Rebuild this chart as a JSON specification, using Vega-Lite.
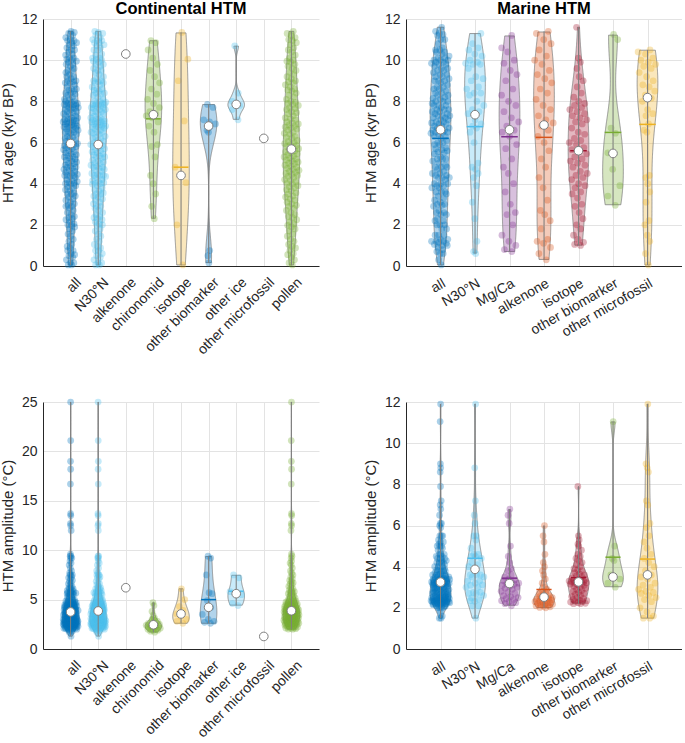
{
"$schema": "https://vega.github.io/schema/vega-lite/v6.json",
"padding": {"left": 0, "top": 0, "right": 0, "bottom": 0},
"config": {
  "font": "Liberation Sans",
  "view": {"stroke": null},
  "axis": {"labelFontSize": 14, "titleFontSize": 15, "labelColor": "#262626", "titleColor": "#262626", "titleFontWeight": "normal", "domainColor": "#262626", "domainWidth": 1, "gridColor": "#e3e3e3", "ticks": false},
  "title": {"fontSize": 16.5, "fontWeight": "bold", "color": "#000000", "offset": -5, "frame": "group"}
},
"datasets": {
"rec": [
{"t":"C","c":"alkenone","n":1,"a":10.3,"m":6.2},
{"t":"C","c":"other microfossil","n":1,"a":6.2,"m":1.3},
{"t":"C","c":"chironomid","n":1,"a":10.95,"m":4.7},
{"t":"C","c":"chironomid","n":1,"a":10.85,"m":4.4},
{"t":"C","c":"chironomid","n":1,"a":10.5,"m":3.8},
{"t":"C","c":"chironomid","n":1,"a":10.1,"m":3.4},
{"t":"C","c":"chironomid","n":1,"a":9.8,"m":3.1},
{"t":"C","c":"chironomid","n":1,"a":9.5,"m":3.0},
{"t":"C","c":"chironomid","n":1,"a":9.2,"m":2.9},
{"t":"C","c":"chironomid","n":1,"a":8.9,"m":2.8},
{"t":"C","c":"chironomid","n":1,"a":8.6,"m":2.7},
{"t":"C","c":"chironomid","n":1,"a":8.35,"m":2.6},
{"t":"C","c":"chironomid","n":1,"a":8.1,"m":2.6},
{"t":"C","c":"chironomid","n":1,"a":7.9,"m":2.5},
{"t":"C","c":"chironomid","n":1,"a":7.7,"m":2.5},
{"t":"C","c":"chironomid","n":1,"a":7.5,"m":2.45},
{"t":"C","c":"chironomid","n":1,"a":7.4,"m":2.4},
{"t":"C","c":"chironomid","n":1,"a":7.3,"m":2.4},
{"t":"C","c":"chironomid","n":1,"a":7.2,"m":2.3},
{"t":"C","c":"chironomid","n":1,"a":7.0,"m":2.3},
{"t":"C","c":"chironomid","n":1,"a":6.8,"m":2.2},
{"t":"C","c":"chironomid","n":1,"a":6.5,"m":2.2},
{"t":"C","c":"chironomid","n":1,"a":5.9,"m":2.1},
{"t":"C","c":"chironomid","n":1,"a":5.8,"m":2.1},
{"t":"C","c":"chironomid","n":1,"a":5.3,"m":2.0},
{"t":"C","c":"chironomid","n":1,"a":4.4,"m":2.0},
{"t":"C","c":"chironomid","n":1,"a":4.0,"m":1.9},
{"t":"C","c":"chironomid","n":1,"a":3.5,"m":1.9},
{"t":"C","c":"chironomid","n":1,"a":2.9,"m":1.8},
{"t":"C","c":"chironomid","n":1,"a":2.3,"m":1.7},
{"t":"C","c":"isotope","n":1,"a":11.35,"m":6.1},
{"t":"C","c":"isotope","n":1,"a":10.05,"m":5.0},
{"t":"C","c":"isotope","n":1,"a":9.0,"m":4.3},
{"t":"C","c":"isotope","n":1,"a":7.05,"m":3.9},
{"t":"C","c":"isotope","n":1,"a":4.8,"m":3.55},
{"t":"C","c":"isotope","n":1,"a":4.4,"m":3.3},
{"t":"C","c":"isotope","n":1,"a":4.05,"m":3.0},
{"t":"C","c":"isotope","n":1,"a":2.0,"m":2.8},
{"t":"C","c":"isotope","n":1,"a":0.05,"m":2.6},
{"t":"C","c":"other biomarker","n":1,"a":7.85,"m":9.4},
{"t":"C","c":"other biomarker","n":1,"a":7.7,"m":9.2},
{"t":"C","c":"other biomarker","n":1,"a":7.1,"m":7.5},
{"t":"C","c":"other biomarker","n":1,"a":7.0,"m":5.7},
{"t":"C","c":"other biomarker","n":1,"a":6.9,"m":5.6},
{"t":"C","c":"other biomarker","n":1,"a":6.8,"m":4.9},
{"t":"C","c":"other biomarker","n":1,"a":6.75,"m":4.2},
{"t":"C","c":"other biomarker","n":1,"a":6.6,"m":3.5},
{"t":"C","c":"other biomarker","n":1,"a":6.5,"m":3.0},
{"t":"C","c":"other biomarker","n":1,"a":0.75,"m":2.8},
{"t":"C","c":"other biomarker","n":1,"a":0.5,"m":2.7},
{"t":"C","c":"other biomarker","n":1,"a":0.15,"m":2.6},
{"t":"C","c":"other ice","n":1,"a":10.7,"m":7.5},
{"t":"C","c":"other ice","n":1,"a":8.4,"m":7.2},
{"t":"C","c":"other ice","n":1,"a":8.0,"m":5.8},
{"t":"C","c":"other ice","n":1,"a":7.85,"m":5.6},
{"t":"C","c":"other ice","n":1,"a":7.8,"m":5.5},
{"t":"C","c":"other ice","n":1,"a":7.6,"m":4.6},
{"t":"C","c":"other ice","n":1,"a":7.1,"m":4.4},
{"t":"C","c":"pollen","n":1,"a":0.05,"m":2.0},
{"t":"C","c":"pollen","n":1,"a":0.15,"m":2.02},
{"t":"C","c":"pollen","n":1,"a":0.3,"m":2.05},
{"t":"C","c":"pollen","n":1,"a":0.42,"m":2.1},
{"t":"C","c":"pollen","n":0,"a":0.55,"m":2.12},
{"t":"C","c":"pollen","n":1,"a":0.6,"m":2.15},
{"t":"C","c":"pollen","n":1,"a":0.75,"m":2.2},
{"t":"C","c":"pollen","n":1,"a":0.88,"m":2.22},
{"t":"C","c":"pollen","n":1,"a":0.95,"m":2.25},
{"t":"C","c":"pollen","n":1,"a":1.05,"m":2.3},
{"t":"C","c":"pollen","n":1,"a":1.2,"m":2.32},
{"t":"C","c":"pollen","n":1,"a":1.3,"m":2.35},
{"t":"C","c":"pollen","n":1,"a":1.45,"m":2.4},
{"t":"C","c":"pollen","n":1,"a":1.55,"m":2.42},
{"t":"C","c":"pollen","n":1,"a":1.7,"m":2.45},
{"t":"C","c":"pollen","n":1,"a":1.8,"m":2.48},
{"t":"C","c":"pollen","n":0,"a":1.9,"m":2.5},
{"t":"C","c":"pollen","n":1,"a":1.98,"m":2.52},
{"t":"C","c":"pollen","n":1,"a":2.05,"m":2.55},
{"t":"C","c":"pollen","n":1,"a":2.15,"m":2.58},
{"t":"C","c":"pollen","n":1,"a":2.25,"m":2.6},
{"t":"C","c":"pollen","n":1,"a":2.35,"m":2.62},
{"t":"C","c":"pollen","n":1,"a":2.4,"m":2.65},
{"t":"C","c":"pollen","n":1,"a":2.5,"m":2.68},
{"t":"C","c":"pollen","n":1,"a":2.6,"m":2.7},
{"t":"C","c":"pollen","n":1,"a":2.7,"m":2.72},
{"t":"C","c":"pollen","n":1,"a":2.8,"m":2.75},
{"t":"C","c":"pollen","n":1,"a":2.9,"m":2.78},
{"t":"C","c":"pollen","n":0,"a":2.95,"m":2.8},
{"t":"C","c":"pollen","n":1,"a":3.02,"m":2.82},
{"t":"C","c":"pollen","n":1,"a":3.1,"m":2.85},
{"t":"C","c":"pollen","n":1,"a":3.2,"m":2.88},
{"t":"C","c":"pollen","n":1,"a":3.25,"m":2.9},
{"t":"C","c":"pollen","n":1,"a":3.35,"m":2.92},
{"t":"C","c":"pollen","n":1,"a":3.4,"m":2.95},
{"t":"C","c":"pollen","n":1,"a":3.5,"m":2.98},
{"t":"C","c":"pollen","n":1,"a":3.55,"m":3.0},
{"t":"C","c":"pollen","n":1,"a":3.65,"m":3.02},
{"t":"C","c":"pollen","n":1,"a":3.7,"m":3.05},
{"t":"C","c":"pollen","n":1,"a":3.8,"m":3.08},
{"t":"C","c":"pollen","n":0,"a":3.85,"m":3.1},
{"t":"C","c":"pollen","n":1,"a":3.9,"m":3.12},
{"t":"C","c":"pollen","n":1,"a":3.98,"m":3.15},
{"t":"C","c":"pollen","n":1,"a":4.02,"m":3.18},
{"t":"C","c":"pollen","n":1,"a":4.1,"m":3.2},
{"t":"C","c":"pollen","n":1,"a":4.15,"m":3.22},
{"t":"C","c":"pollen","n":1,"a":4.2,"m":3.25},
{"t":"C","c":"pollen","n":1,"a":4.3,"m":3.28},
{"t":"C","c":"pollen","n":1,"a":4.35,"m":3.3},
{"t":"C","c":"pollen","n":1,"a":4.4,"m":3.32},
{"t":"C","c":"pollen","n":1,"a":4.45,"m":3.35},
{"t":"C","c":"pollen","n":1,"a":4.5,"m":3.38},
{"t":"C","c":"pollen","n":0,"a":4.55,"m":3.4},
{"t":"C","c":"pollen","n":1,"a":4.6,"m":3.42},
{"t":"C","c":"pollen","n":1,"a":4.65,"m":3.45},
{"t":"C","c":"pollen","n":1,"a":4.7,"m":3.48},
{"t":"C","c":"pollen","n":1,"a":4.75,"m":3.5},
{"t":"C","c":"pollen","n":1,"a":4.8,"m":3.52},
{"t":"C","c":"pollen","n":1,"a":4.85,"m":3.55},
{"t":"C","c":"pollen","n":1,"a":4.9,"m":3.58},
{"t":"C","c":"pollen","n":1,"a":4.97,"m":3.6},
{"t":"C","c":"pollen","n":1,"a":5.0,"m":3.62},
{"t":"C","c":"pollen","n":1,"a":5.05,"m":3.65},
{"t":"C","c":"pollen","n":1,"a":5.1,"m":3.68},
{"t":"C","c":"pollen","n":1,"a":5.15,"m":3.7},
{"t":"C","c":"pollen","n":0,"a":5.2,"m":3.72},
{"t":"C","c":"pollen","n":1,"a":5.25,"m":3.75},
{"t":"C","c":"pollen","n":1,"a":5.3,"m":3.78},
{"t":"C","c":"pollen","n":1,"a":5.35,"m":3.8},
{"t":"C","c":"pollen","n":1,"a":5.4,"m":3.82},
{"t":"C","c":"pollen","n":1,"a":5.45,"m":3.85},
{"t":"C","c":"pollen","n":1,"a":5.5,"m":3.88},
{"t":"C","c":"pollen","n":1,"a":5.55,"m":3.9},
{"t":"C","c":"pollen","n":1,"a":5.6,"m":3.92},
{"t":"C","c":"pollen","n":1,"a":5.65,"m":3.94},
{"t":"C","c":"pollen","n":1,"a":5.7,"m":3.95},
{"t":"C","c":"pollen","n":1,"a":5.75,"m":3.97},
{"t":"C","c":"pollen","n":0,"a":5.8,"m":3.99},
{"t":"C","c":"pollen","n":1,"a":5.85,"m":4.0},
{"t":"C","c":"pollen","n":1,"a":5.9,"m":4.03},
{"t":"C","c":"pollen","n":1,"a":5.95,"m":4.06},
{"t":"C","c":"pollen","n":1,"a":6.0,"m":4.1},
{"t":"C","c":"pollen","n":1,"a":6.05,"m":4.12},
{"t":"C","c":"pollen","n":1,"a":6.1,"m":4.15},
{"t":"C","c":"pollen","n":1,"a":6.2,"m":4.18},
{"t":"C","c":"pollen","n":1,"a":6.25,"m":4.2},
{"t":"C","c":"pollen","n":1,"a":6.3,"m":4.23},
{"t":"C","c":"pollen","n":1,"a":6.4,"m":4.26},
{"t":"C","c":"pollen","n":1,"a":6.45,"m":4.3},
{"t":"C","c":"pollen","n":1,"a":6.5,"m":4.33},
{"t":"C","c":"pollen","n":0,"a":6.6,"m":4.36},
{"t":"C","c":"pollen","n":1,"a":6.65,"m":4.4},
{"t":"C","c":"pollen","n":1,"a":6.7,"m":4.43},
{"t":"C","c":"pollen","n":1,"a":6.75,"m":4.46},
{"t":"C","c":"pollen","n":1,"a":6.8,"m":4.49},
{"t":"C","c":"pollen","n":1,"a":6.85,"m":4.5},
{"t":"C","c":"pollen","n":1,"a":6.9,"m":4.54},
{"t":"C","c":"pollen","n":1,"a":6.95,"m":4.58},
{"t":"C","c":"pollen","n":1,"a":7.0,"m":4.62},
{"t":"C","c":"pollen","n":1,"a":7.1,"m":4.66},
{"t":"C","c":"pollen","n":1,"a":7.15,"m":4.7},
{"t":"C","c":"pollen","n":1,"a":7.2,"m":4.74},
{"t":"C","c":"pollen","n":0,"a":7.3,"m":4.78},
{"t":"C","c":"pollen","n":1,"a":7.4,"m":4.82},
{"t":"C","c":"pollen","n":1,"a":7.45,"m":4.86},
{"t":"C","c":"pollen","n":1,"a":7.5,"m":4.9},
{"t":"C","c":"pollen","n":1,"a":7.6,"m":4.94},
{"t":"C","c":"pollen","n":1,"a":7.65,"m":4.98},
{"t":"C","c":"pollen","n":1,"a":7.7,"m":5.05},
{"t":"C","c":"pollen","n":1,"a":7.8,"m":5.15},
{"t":"C","c":"pollen","n":1,"a":7.85,"m":5.25},
{"t":"C","c":"pollen","n":1,"a":7.9,"m":5.3},
{"t":"C","c":"pollen","n":1,"a":7.95,"m":5.4},
{"t":"C","c":"pollen","n":1,"a":8.0,"m":5.5},
{"t":"C","c":"pollen","n":0,"a":8.1,"m":5.6},
{"t":"C","c":"pollen","n":1,"a":8.2,"m":5.65},
{"t":"C","c":"pollen","n":1,"a":8.3,"m":5.7},
{"t":"C","c":"pollen","n":1,"a":8.4,"m":5.8},
{"t":"C","c":"pollen","n":1,"a":8.5,"m":5.9},
{"t":"C","c":"pollen","n":1,"a":8.55,"m":5.95},
{"t":"C","c":"pollen","n":1,"a":8.6,"m":6.1},
{"t":"C","c":"pollen","n":1,"a":8.7,"m":6.2},
{"t":"C","c":"pollen","n":1,"a":8.8,"m":6.35},
{"t":"C","c":"pollen","n":1,"a":8.9,"m":6.5},
{"t":"C","c":"pollen","n":1,"a":8.95,"m":6.6},
{"t":"C","c":"pollen","n":1,"a":9.0,"m":6.7},
{"t":"C","c":"pollen","n":1,"a":9.1,"m":6.85},
{"t":"C","c":"pollen","n":0,"a":9.2,"m":6.95},
{"t":"C","c":"pollen","n":1,"a":9.3,"m":7.1},
{"t":"C","c":"pollen","n":1,"a":9.4,"m":7.3},
{"t":"C","c":"pollen","n":1,"a":9.5,"m":7.5},
{"t":"C","c":"pollen","n":1,"a":9.6,"m":7.7},
{"t":"C","c":"pollen","n":1,"a":9.7,"m":7.9},
{"t":"C","c":"pollen","n":1,"a":9.8,"m":8.2},
{"t":"C","c":"pollen","n":1,"a":9.9,"m":8.5},
{"t":"C","c":"pollen","n":1,"a":9.95,"m":8.7},
{"t":"C","c":"pollen","n":1,"a":10.0,"m":8.9},
{"t":"C","c":"pollen","n":1,"a":10.1,"m":9.2},
{"t":"C","c":"pollen","n":1,"a":10.25,"m":9.4},
{"t":"C","c":"pollen","n":0,"a":10.4,"m":9.6},
{"t":"C","c":"pollen","n":1,"a":10.5,"m":12.0},
{"t":"C","c":"pollen","n":1,"a":10.6,"m":12.5},
{"t":"C","c":"pollen","n":1,"a":10.75,"m":12.7},
{"t":"C","c":"pollen","n":1,"a":10.85,"m":13.5},
{"t":"C","c":"pollen","n":1,"a":10.95,"m":13.7},
{"t":"C","c":"pollen","n":1,"a":11.0,"m":16.7},
{"t":"C","c":"pollen","n":1,"a":11.1,"m":18.2},
{"t":"C","c":"pollen","n":1,"a":11.2,"m":19.0},
{"t":"C","c":"pollen","n":1,"a":11.3,"m":21.1},
{"t":"C","c":"pollen","n":1,"a":11.4,"m":25.0},
{"t":"M","c":"Mg/Ca","n":0,"a":11.2,"m":6.8},
{"t":"M","c":"Mg/Ca","n":1,"a":10.6,"m":6.5},
{"t":"M","c":"Mg/Ca","n":0,"a":10.4,"m":6.1},
{"t":"M","c":"Mg/Ca","n":0,"a":10.0,"m":5.0},
{"t":"M","c":"Mg/Ca","n":1,"a":9.85,"m":4.5},
{"t":"M","c":"Mg/Ca","n":0,"a":9.5,"m":4.2},
{"t":"M","c":"Mg/Ca","n":0,"a":9.3,"m":3.9},
{"t":"M","c":"Mg/Ca","n":0,"a":9.0,"m":3.8},
{"t":"M","c":"Mg/Ca","n":1,"a":8.6,"m":3.6},
{"t":"M","c":"Mg/Ca","n":0,"a":8.3,"m":3.5},
{"t":"M","c":"Mg/Ca","n":0,"a":8.0,"m":3.4},
{"t":"M","c":"Mg/Ca","n":0,"a":7.8,"m":3.35},
{"t":"M","c":"Mg/Ca","n":1,"a":7.5,"m":3.3},
{"t":"M","c":"Mg/Ca","n":0,"a":7.2,"m":3.25},
{"t":"M","c":"Mg/Ca","n":0,"a":7.0,"m":3.2},
{"t":"M","c":"Mg/Ca","n":0,"a":6.8,"m":3.18},
{"t":"M","c":"Mg/Ca","n":0,"a":6.6,"m":3.15},
{"t":"M","c":"Mg/Ca","n":1,"a":6.5,"m":3.1},
{"t":"M","c":"Mg/Ca","n":0,"a":6.3,"m":3.05},
{"t":"M","c":"Mg/Ca","n":0,"a":5.9,"m":3.0},
{"t":"M","c":"Mg/Ca","n":0,"a":5.7,"m":2.95},
{"t":"M","c":"Mg/Ca","n":0,"a":5.2,"m":2.9},
{"t":"M","c":"Mg/Ca","n":0,"a":4.8,"m":2.8},
{"t":"M","c":"Mg/Ca","n":1,"a":4.5,"m":2.75},
{"t":"M","c":"Mg/Ca","n":0,"a":4.0,"m":2.7},
{"t":"M","c":"Mg/Ca","n":0,"a":3.6,"m":2.6},
{"t":"M","c":"Mg/Ca","n":0,"a":3.0,"m":2.55},
{"t":"M","c":"Mg/Ca","n":0,"a":2.6,"m":2.5},
{"t":"M","c":"Mg/Ca","n":0,"a":2.5,"m":2.45},
{"t":"M","c":"Mg/Ca","n":0,"a":2.0,"m":2.4},
{"t":"M","c":"Mg/Ca","n":0,"a":1.5,"m":2.35},
{"t":"M","c":"Mg/Ca","n":0,"a":1.2,"m":2.3},
{"t":"M","c":"Mg/Ca","n":0,"a":1.0,"m":2.25},
{"t":"M","c":"Mg/Ca","n":0,"a":0.8,"m":2.2},
{"t":"M","c":"Mg/Ca","n":1,"a":0.7,"m":2.1},
{"t":"M","c":"alkenone","n":0,"a":11.4,"m":6.0},
{"t":"M","c":"alkenone","n":1,"a":11.3,"m":5.5},
{"t":"M","c":"alkenone","n":0,"a":11.0,"m":5.2},
{"t":"M","c":"alkenone","n":1,"a":10.8,"m":4.6},
{"t":"M","c":"alkenone","n":0,"a":10.5,"m":4.2},
{"t":"M","c":"alkenone","n":1,"a":10.2,"m":4.0},
{"t":"M","c":"alkenone","n":0,"a":10.0,"m":3.8},
{"t":"M","c":"alkenone","n":1,"a":9.8,"m":3.6},
{"t":"M","c":"alkenone","n":0,"a":9.5,"m":3.4},
{"t":"M","c":"alkenone","n":0,"a":9.3,"m":3.2},
{"t":"M","c":"alkenone","n":1,"a":9.1,"m":3.0},
{"t":"M","c":"alkenone","n":0,"a":8.9,"m":2.9},
{"t":"M","c":"alkenone","n":0,"a":8.6,"m":2.8},
{"t":"M","c":"alkenone","n":1,"a":8.4,"m":2.75},
{"t":"M","c":"alkenone","n":0,"a":8.1,"m":2.7},
{"t":"M","c":"alkenone","n":0,"a":7.8,"m":2.65},
{"t":"M","c":"alkenone","n":1,"a":7.6,"m":2.6},
{"t":"M","c":"alkenone","n":0,"a":7.3,"m":2.55},
{"t":"M","c":"alkenone","n":0,"a":7.1,"m":2.52},
{"t":"M","c":"alkenone","n":0,"a":6.95,"m":2.5},
{"t":"M","c":"alkenone","n":1,"a":6.8,"m":2.48},
{"t":"M","c":"alkenone","n":0,"a":6.6,"m":2.45},
{"t":"M","c":"alkenone","n":0,"a":6.3,"m":2.42},
{"t":"M","c":"alkenone","n":0,"a":6.0,"m":2.4},
{"t":"M","c":"alkenone","n":0,"a":5.6,"m":2.38},
{"t":"M","c":"alkenone","n":0,"a":5.2,"m":2.35},
{"t":"M","c":"alkenone","n":1,"a":4.8,"m":2.32},
{"t":"M","c":"alkenone","n":0,"a":4.3,"m":2.3},
{"t":"M","c":"alkenone","n":0,"a":3.8,"m":2.28},
{"t":"M","c":"alkenone","n":0,"a":3.2,"m":2.25},
{"t":"M","c":"alkenone","n":0,"a":2.7,"m":2.22},
{"t":"M","c":"alkenone","n":0,"a":2.5,"m":2.2},
{"t":"M","c":"alkenone","n":0,"a":2.2,"m":2.18},
{"t":"M","c":"alkenone","n":0,"a":1.8,"m":2.15},
{"t":"M","c":"alkenone","n":0,"a":1.3,"m":2.12},
{"t":"M","c":"alkenone","n":1,"a":1.2,"m":2.1},
{"t":"M","c":"alkenone","n":0,"a":1.1,"m":2.08},
{"t":"M","c":"alkenone","n":0,"a":0.9,"m":2.05},
{"t":"M","c":"alkenone","n":0,"a":0.6,"m":2.02},
{"t":"M","c":"alkenone","n":0,"a":0.3,"m":2.0},
{"t":"M","c":"isotope","n":0,"a":11.6,"m":7.9},
{"t":"M","c":"isotope","n":0,"a":10.1,"m":5.5},
{"t":"M","c":"isotope","n":1,"a":9.9,"m":5.3},
{"t":"M","c":"isotope","n":0,"a":9.6,"m":5.1},
{"t":"M","c":"isotope","n":0,"a":9.2,"m":5.0},
{"t":"M","c":"isotope","n":0,"a":9.0,"m":4.8},
{"t":"M","c":"isotope","n":0,"a":8.7,"m":4.6},
{"t":"M","c":"isotope","n":1,"a":8.4,"m":4.5},
{"t":"M","c":"isotope","n":0,"a":8.2,"m":4.4},
{"t":"M","c":"isotope","n":0,"a":8.0,"m":4.3},
{"t":"M","c":"isotope","n":0,"a":7.9,"m":4.2},
{"t":"M","c":"isotope","n":1,"a":7.8,"m":4.1},
{"t":"M","c":"isotope","n":0,"a":7.7,"m":4.0},
{"t":"M","c":"isotope","n":0,"a":7.6,"m":3.9},
{"t":"M","c":"isotope","n":0,"a":7.5,"m":3.85},
{"t":"M","c":"isotope","n":0,"a":7.4,"m":3.8},
{"t":"M","c":"isotope","n":0,"a":7.3,"m":3.7},
{"t":"M","c":"isotope","n":0,"a":7.2,"m":3.65},
{"t":"M","c":"isotope","n":1,"a":7.1,"m":3.6},
{"t":"M","c":"isotope","n":0,"a":7.0,"m":3.55},
{"t":"M","c":"isotope","n":0,"a":6.9,"m":3.5},
{"t":"M","c":"isotope","n":0,"a":6.7,"m":3.45},
{"t":"M","c":"isotope","n":0,"a":6.5,"m":3.4},
{"t":"M","c":"isotope","n":0,"a":6.4,"m":3.38},
{"t":"M","c":"isotope","n":0,"a":6.2,"m":3.35},
{"t":"M","c":"isotope","n":0,"a":6.1,"m":3.32},
{"t":"M","c":"isotope","n":1,"a":6.0,"m":3.3},
{"t":"M","c":"isotope","n":0,"a":5.9,"m":3.28},
{"t":"M","c":"isotope","n":0,"a":5.75,"m":3.27},
{"t":"M","c":"isotope","n":0,"a":5.65,"m":3.26},
{"t":"M","c":"isotope","n":0,"a":5.55,"m":3.24},
{"t":"M","c":"isotope","n":0,"a":5.45,"m":3.22},
{"t":"M","c":"isotope","n":0,"a":5.3,"m":3.2},
{"t":"M","c":"isotope","n":0,"a":5.2,"m":3.18},
{"t":"M","c":"isotope","n":0,"a":5.1,"m":3.15},
{"t":"M","c":"isotope","n":1,"a":5.0,"m":3.12},
{"t":"M","c":"isotope","n":0,"a":4.9,"m":3.1},
{"t":"M","c":"isotope","n":0,"a":4.8,"m":3.05},
{"t":"M","c":"isotope","n":0,"a":4.6,"m":3.0},
{"t":"M","c":"isotope","n":0,"a":4.5,"m":2.95},
{"t":"M","c":"isotope","n":0,"a":4.4,"m":2.9},
{"t":"M","c":"isotope","n":0,"a":4.3,"m":2.85},
{"t":"M","c":"isotope","n":0,"a":4.2,"m":2.8},
{"t":"M","c":"isotope","n":0,"a":4.0,"m":2.75},
{"t":"M","c":"isotope","n":1,"a":3.9,"m":2.7},
{"t":"M","c":"isotope","n":0,"a":3.8,"m":2.65},
{"t":"M","c":"isotope","n":0,"a":3.6,"m":2.6},
{"t":"M","c":"isotope","n":0,"a":3.5,"m":2.55},
{"t":"M","c":"isotope","n":0,"a":3.3,"m":2.5},
{"t":"M","c":"isotope","n":0,"a":3.0,"m":2.45},
{"t":"M","c":"isotope","n":0,"a":2.9,"m":2.4},
{"t":"M","c":"isotope","n":0,"a":2.6,"m":2.38},
{"t":"M","c":"isotope","n":1,"a":2.3,"m":2.35},
{"t":"M","c":"isotope","n":0,"a":2.0,"m":2.32},
{"t":"M","c":"isotope","n":0,"a":1.8,"m":2.3},
{"t":"M","c":"isotope","n":0,"a":1.5,"m":2.28},
{"t":"M","c":"isotope","n":0,"a":1.3,"m":2.25},
{"t":"M","c":"isotope","n":0,"a":1.15,"m":2.22},
{"t":"M","c":"isotope","n":0,"a":1.05,"m":2.2},
{"t":"M","c":"isotope","n":0,"a":1.0,"m":2.2},
{"t":"M","c":"other biomarker","n":0,"a":11.25,"m":11.05},
{"t":"M","c":"other biomarker","n":0,"a":11.0,"m":5.0},
{"t":"M","c":"other biomarker","n":1,"a":6.7,"m":4.4},
{"t":"M","c":"other biomarker","n":0,"a":6.45,"m":4.3},
{"t":"M","c":"other biomarker","n":0,"a":5.5,"m":3.6},
{"t":"M","c":"other biomarker","n":1,"a":4.7,"m":3.5},
{"t":"M","c":"other biomarker","n":0,"a":3.9,"m":3.4},
{"t":"M","c":"other biomarker","n":0,"a":3.4,"m":3.2},
{"t":"M","c":"other biomarker","n":0,"a":2.95,"m":3.0},
{"t":"M","c":"other microfossil","n":1,"a":10.5,"m":11.9},
{"t":"M","c":"other microfossil","n":0,"a":10.4,"m":9.0},
{"t":"M","c":"other microfossil","n":1,"a":10.3,"m":8.8},
{"t":"M","c":"other microfossil","n":0,"a":10.1,"m":8.6},
{"t":"M","c":"other microfossil","n":1,"a":10.0,"m":7.2},
{"t":"M","c":"other microfossil","n":0,"a":9.9,"m":7.0},
{"t":"M","c":"other microfossil","n":1,"a":9.8,"m":6.1},
{"t":"M","c":"other microfossil","n":0,"a":9.7,"m":5.9},
{"t":"M","c":"other microfossil","n":1,"a":9.6,"m":5.5},
{"t":"M","c":"other microfossil","n":0,"a":9.4,"m":5.2},
{"t":"M","c":"other microfossil","n":1,"a":9.2,"m":4.9},
{"t":"M","c":"other microfossil","n":1,"a":9.0,"m":4.6},
{"t":"M","c":"other microfossil","n":0,"a":8.8,"m":4.4},
{"t":"M","c":"other microfossil","n":1,"a":8.7,"m":4.2},
{"t":"M","c":"other microfossil","n":0,"a":8.5,"m":4.0},
{"t":"M","c":"other microfossil","n":1,"a":8.3,"m":3.8},
{"t":"M","c":"other microfossil","n":0,"a":8.15,"m":3.6},
{"t":"M","c":"other microfossil","n":1,"a":8.0,"m":3.5},
{"t":"M","c":"other microfossil","n":0,"a":7.6,"m":3.4},
{"t":"M","c":"other microfossil","n":1,"a":7.4,"m":3.2},
{"t":"M","c":"other microfossil","n":0,"a":7.3,"m":3.1},
{"t":"M","c":"other microfossil","n":1,"a":6.9,"m":3.0},
{"t":"M","c":"other microfossil","n":0,"a":6.6,"m":2.9},
{"t":"M","c":"other microfossil","n":0,"a":6.5,"m":2.8},
{"t":"M","c":"other microfossil","n":0,"a":4.4,"m":2.75},
{"t":"M","c":"other microfossil","n":1,"a":4.3,"m":2.7},
{"t":"M","c":"other microfossil","n":0,"a":4.0,"m":2.6},
{"t":"M","c":"other microfossil","n":0,"a":3.6,"m":2.5},
{"t":"M","c":"other microfossil","n":1,"a":3.1,"m":2.4},
{"t":"M","c":"other microfossil","n":0,"a":2.2,"m":2.3},
{"t":"M","c":"other microfossil","n":0,"a":2.0,"m":2.0},
{"t":"M","c":"other microfossil","n":0,"a":1.5,"m":1.8},
{"t":"M","c":"other microfossil","n":0,"a":1.2,"m":1.6},
{"t":"M","c":"other microfossil","n":1,"a":0.6,"m":1.5},
{"t":"M","c":"other microfossil","n":0,"a":0.05,"m":1.5}
],
"st": [
{"t":"C","g":"all","am":5.95,"mm":3.75},
{"t":"C","g":"N30°N","am":5.9,"mm":3.85},
{"t":"C","g":"alkenone","am":10.3,"mm":6.2},
{"t":"C","g":"chironomid","am":7.35,"mm":2.45,"aa":7.15},
{"t":"C","g":"isotope","am":4.4,"mm":3.55,"aa":4.8},
{"t":"C","g":"other biomarker","am":6.8,"mm":4.22,"ma":5.0},
{"t":"C","g":"other ice","am":7.85,"mm":5.6,"ma":5.85},
{"t":"C","g":"other microfossil","am":6.2,"mm":1.27},
{"t":"C","g":"pollen","am":5.68,"mm":3.87},
{"t":"M","g":"all","am":6.62,"mm":3.25,"aa":6.2},
{"t":"M","g":"N30°N","am":7.35,"mm":3.87,"aa":6.77,"ma":4.41},
{"t":"M","g":"Mg/Ca","am":6.62,"mm":3.18,"aa":6.28,"ma":3.44},
{"t":"M","g":"alkenone","am":6.85,"mm":2.52,"aa":6.25,"ma":2.89},
{"t":"M","g":"isotope","am":5.6,"mm":3.26,"aa":5.6,"ma":3.47},
{"t":"M","g":"other biomarker","am":5.47,"mm":3.5,"aa":6.49,"ma":4.46},
{"t":"M","g":"other microfossil","am":8.18,"mm":3.6,"aa":6.88,"ma":4.37}
]
},
"columns": 2,
"spacing": {"row": 136, "column": 87},
"bounds": "flush",
"concat": [
{
 "width": 276, "height": 247,
 "title": {"text": "Continental HTM"},
 "data": {"name": "rec"},
 "transform": [
  {"filter": "datum.t == 'C'"},
  {"calculate": "datum.a", "as": "v"},
  {"calculate": "datum.n == 1 ? ['all','N30°N',datum.c] : ['all',datum.c]", "as": "gs"},
  {"flatten": ["gs"], "as": ["g"]},
  {"calculate": "indexof(['all','N30°N','alkenone','chironomid','isotope','other biomarker','other ice','other microfossil','pollen'], datum.g) + 1", "as": "i"},
  {"calculate": "'C:' + datum.g", "as": "k"},
  {"joinaggregate": [{"op": "count", "as": "cnt"}, {"op": "min", "field": "v", "as": "gmin"}, {"op": "max", "field": "v", "as": "gmax"}], "groupby": ["k"]}
 ],
 "layer": [
  {
   "transform": [
    {"filter": "datum.cnt > 1"},
    {"density": "v", "groupby": ["k", "i", "gmin", "gmax"], "steps": 300},
    {"filter": "datum.value >= datum.gmin && datum.value <= datum.gmax"},
    {"joinaggregate": [{"op": "max", "field": "density", "as": "dm"}], "groupby": ["k"]},
    {"calculate": "datum.i - 0.3 * datum.density / datum.dm", "as": "xa"},
    {"calculate": "datum.i + 0.3 * datum.density / datum.dm", "as": "xb"}
   ],
   "mark": {"type": "area", "orient": "horizontal", "fillOpacity": 0.3, "stroke": "#808080", "strokeWidth": 0.8},
   "encoding": {
    "x": {"field": "xa", "type": "quantitative", "stack": null, "scale": {"domain": [0, 10]}, "axis": {"values": [1,2,3,4,5,6,7,8,9], "tickCount": 20, "labelExpr": "['','all','N30°N','alkenone','chironomid','isotope','other biomarker','other ice','other microfossil','pollen'][datum.value]", "labelAngle": -45, "labelPadding": 9, "labelOffset": 3, "labelOverlap": false, "labelFlush": false, "labelBound": false, "title": null, "grid": true}},
    "x2": {"field": "xb"},
    "y": {"field": "value", "type": "quantitative", "scale": {"domain": [0, 12]}, "axis": {"values": [0,2,4,6,8,10,12], "format": "d", "title": "HTM age (kyr BP)", "labelPadding": 6, "titlePadding": 6, "grid": true}},
    "color": {"field": "k", "type": "nominal", "legend": null, "scale": {"domain": ["C:all","C:N30°N","C:alkenone","C:chironomid","C:isotope","C:other biomarker","C:other ice","C:other microfossil","C:pollen","M:all","M:N30°N","M:Mg/Ca","M:alkenone","M:isotope","M:other biomarker","M:other microfossil"], "range": ["#0072BD","#4DBEEE","#D95319","#77AC30","#EDB120","#0072BD","#4DBEEE","#7E2F8E","#77AC30","#0072BD","#4DBEEE","#7E2F8E","#D95319","#A2142F","#77AC30","#EDB120"]}}
   }
  },
  {
   "transform": [
    {"window": [{"op": "row_number", "as": "rn"}, {"op": "min", "field": "v", "as": "wlo"}, {"op": "max", "field": "v", "as": "whi"}, {"op": "count", "as": "wc"}], "groupby": ["k"], "sort": [{"field": "v"}], "frame": [-4, 4]},
    {"calculate": "datum.wc / (datum.whi - datum.wlo + 0.2)", "as": "ld"},
    {"joinaggregate": [{"op": "q3", "field": "ld", "as": "lq"}], "groupby": ["k"]},
    {"calculate": "datum.i + (datum.cnt > 1 ? ((datum.rn * 0.6180339887) % 1 * 2 - 1) * 0.28 * min(1, datum.ld / datum.lq) : 0)", "as": "xj"}
   ],
   "mark": {"type": "circle", "size": 45, "opacity": 0.33},
   "encoding": {
    "x": {"field": "xj", "type": "quantitative", "scale": {"domain": [0, 10]}},
    "y": {"field": "v", "type": "quantitative", "scale": {"domain": [0, 12]}},
    "color": {"field": "k", "type": "nominal", "legend": null}
   }
  },
  {
   "transform": [{"aggregate": [{"op": "count", "as": "nn"}], "groupby": ["k", "i", "gmin", "gmax"]}],
   "mark": {"type": "rule", "color": "#808080", "strokeWidth": 1},
   "encoding": {
    "x": {"field": "i", "type": "quantitative", "scale": {"domain": [0, 10]}},
    "y": {"field": "gmin", "type": "quantitative", "scale": {"domain": [0, 12]}},
    "y2": {"field": "gmax"}
   }
  },
  {
   "data": {"name": "st"},
   "transform": [
    {"filter": "datum.t == 'C' && isValid(datum.aa)"},
    {"calculate": "indexof(['all','N30°N','alkenone','chironomid','isotope','other biomarker','other ice','other microfossil','pollen'], datum.g) + 1", "as": "i"},
    {"calculate": "'C:' + datum.g", "as": "k"},
    {"calculate": "datum.i - 0.27", "as": "xa"},
    {"calculate": "datum.i + 0.27", "as": "xb"}
   ],
   "mark": {"type": "rule", "strokeWidth": 1.5},
   "encoding": {
    "x": {"field": "xa", "type": "quantitative", "scale": {"domain": [0, 10]}},
    "x2": {"field": "xb"},
    "y": {"field": "aa", "type": "quantitative", "scale": {"domain": [0, 12]}},
    "color": {"field": "k", "type": "nominal", "legend": null}
   }
  },
  {
   "data": {"name": "st"},
   "transform": [
    {"filter": "datum.t == 'C'"},
    {"calculate": "indexof(['all','N30°N','alkenone','chironomid','isotope','other biomarker','other ice','other microfossil','pollen'], datum.g) + 1", "as": "i"}
   ],
   "mark": {"type": "point", "filled": true, "fill": "#ffffff", "stroke": "#7f7f7f", "strokeWidth": 1, "size": 75, "opacity": 1},
   "encoding": {
    "x": {"field": "i", "type": "quantitative", "scale": {"domain": [0, 10]}},
    "y": {"field": "am", "type": "quantitative", "scale": {"domain": [0, 12]}}
   }
  }
 ]
},
{
 "width": 276, "height": 247,
 "title": {"text": "Marine HTM"},
 "data": {"name": "rec"},
 "transform": [
  {"filter": "datum.t == 'M'"},
  {"calculate": "datum.a", "as": "v"},
  {"calculate": "datum.n == 1 ? ['all','N30°N',datum.c] : ['all',datum.c]", "as": "gs"},
  {"flatten": ["gs"], "as": ["g"]},
  {"calculate": "indexof(['all','N30°N','Mg/Ca','alkenone','isotope','other biomarker','other microfossil'], datum.g) + 1", "as": "i"},
  {"calculate": "'M:' + datum.g", "as": "k"},
  {"joinaggregate": [{"op": "count", "as": "cnt"}, {"op": "min", "field": "v", "as": "gmin"}, {"op": "max", "field": "v", "as": "gmax"}], "groupby": ["k"]}
 ],
 "layer": [
  {
   "transform": [
    {"filter": "datum.cnt > 1"},
    {"density": "v", "groupby": ["k", "i", "gmin", "gmax"], "steps": 300},
    {"filter": "datum.value >= datum.gmin && datum.value <= datum.gmax"},
    {"joinaggregate": [{"op": "max", "field": "density", "as": "dm"}], "groupby": ["k"]},
    {"calculate": "datum.i - 0.3 * datum.density / datum.dm", "as": "xa"},
    {"calculate": "datum.i + 0.3 * datum.density / datum.dm", "as": "xb"}
   ],
   "mark": {"type": "area", "orient": "horizontal", "fillOpacity": 0.3, "stroke": "#808080", "strokeWidth": 0.8},
   "encoding": {
    "x": {"field": "xa", "type": "quantitative", "stack": null, "scale": {"domain": [0, 8]}, "axis": {"values": [1,2,3,4,5,6,7], "tickCount": 20, "labelExpr": "['','all','N30°N','Mg/Ca','alkenone','isotope','other biomarker','other microfossil'][datum.value]", "labelAngle": -30, "labelPadding": 10, "labelOffset": 0, "labelOverlap": false, "labelFlush": false, "labelBound": false, "title": null, "grid": true}},
    "x2": {"field": "xb"},
    "y": {"field": "value", "type": "quantitative", "scale": {"domain": [0, 12]}, "axis": {"values": [0,2,4,6,8,10,12], "format": "d", "title": "HTM age (kyr BP)", "labelPadding": 6, "titlePadding": 6, "grid": true}},
    "color": {"field": "k", "type": "nominal", "legend": null, "scale": {"domain": ["C:all","C:N30°N","C:alkenone","C:chironomid","C:isotope","C:other biomarker","C:other ice","C:other microfossil","C:pollen","M:all","M:N30°N","M:Mg/Ca","M:alkenone","M:isotope","M:other biomarker","M:other microfossil"], "range": ["#0072BD","#4DBEEE","#D95319","#77AC30","#EDB120","#0072BD","#4DBEEE","#7E2F8E","#77AC30","#0072BD","#4DBEEE","#7E2F8E","#D95319","#A2142F","#77AC30","#EDB120"]}}
   }
  },
  {
   "transform": [
    {"window": [{"op": "row_number", "as": "rn"}, {"op": "min", "field": "v", "as": "wlo"}, {"op": "max", "field": "v", "as": "whi"}, {"op": "count", "as": "wc"}], "groupby": ["k"], "sort": [{"field": "v"}], "frame": [-4, 4]},
    {"calculate": "datum.wc / (datum.whi - datum.wlo + 0.2)", "as": "ld"},
    {"joinaggregate": [{"op": "q3", "field": "ld", "as": "lq"}], "groupby": ["k"]},
    {"calculate": "datum.i + (datum.cnt > 1 ? ((datum.rn * 0.6180339887) % 1 * 2 - 1) * 0.28 * min(1, datum.ld / datum.lq) : 0)", "as": "xj"}
   ],
   "mark": {"type": "circle", "size": 45, "opacity": 0.33},
   "encoding": {
    "x": {"field": "xj", "type": "quantitative", "scale": {"domain": [0, 8]}},
    "y": {"field": "v", "type": "quantitative", "scale": {"domain": [0, 12]}},
    "color": {"field": "k", "type": "nominal", "legend": null}
   }
  },
  {
   "transform": [{"aggregate": [{"op": "count", "as": "nn"}], "groupby": ["k", "i", "gmin", "gmax"]}],
   "mark": {"type": "rule", "color": "#808080", "strokeWidth": 1},
   "encoding": {
    "x": {"field": "i", "type": "quantitative", "scale": {"domain": [0, 8]}},
    "y": {"field": "gmin", "type": "quantitative", "scale": {"domain": [0, 12]}},
    "y2": {"field": "gmax"}
   }
  },
  {
   "data": {"name": "st"},
   "transform": [
    {"filter": "datum.t == 'M' && isValid(datum.aa)"},
    {"calculate": "indexof(['all','N30°N','Mg/Ca','alkenone','isotope','other biomarker','other microfossil'], datum.g) + 1", "as": "i"},
    {"calculate": "'M:' + datum.g", "as": "k"},
    {"calculate": "datum.i - 0.24", "as": "xa"},
    {"calculate": "datum.i + 0.24", "as": "xb"}
   ],
   "mark": {"type": "rule", "strokeWidth": 1.5},
   "encoding": {
    "x": {"field": "xa", "type": "quantitative", "scale": {"domain": [0, 8]}},
    "x2": {"field": "xb"},
    "y": {"field": "aa", "type": "quantitative", "scale": {"domain": [0, 12]}},
    "color": {"field": "k", "type": "nominal", "legend": null}
   }
  },
  {
   "data": {"name": "st"},
   "transform": [
    {"filter": "datum.t == 'M'"},
    {"calculate": "indexof(['all','N30°N','Mg/Ca','alkenone','isotope','other biomarker','other microfossil'], datum.g) + 1", "as": "i"}
   ],
   "mark": {"type": "point", "filled": true, "fill": "#ffffff", "stroke": "#7f7f7f", "strokeWidth": 1, "size": 75, "opacity": 1},
   "encoding": {
    "x": {"field": "i", "type": "quantitative", "scale": {"domain": [0, 8]}},
    "y": {"field": "am", "type": "quantitative", "scale": {"domain": [0, 12]}}
   }
  }
 ]
},
{
 "width": 276, "height": 247,
 "data": {"name": "rec"},
 "transform": [
  {"filter": "datum.t == 'C'"},
  {"calculate": "datum.m", "as": "v"},
  {"calculate": "datum.n == 1 ? ['all','N30°N',datum.c] : ['all',datum.c]", "as": "gs"},
  {"flatten": ["gs"], "as": ["g"]},
  {"calculate": "indexof(['all','N30°N','alkenone','chironomid','isotope','other biomarker','other ice','other microfossil','pollen'], datum.g) + 1", "as": "i"},
  {"calculate": "'C:' + datum.g", "as": "k"},
  {"joinaggregate": [{"op": "count", "as": "cnt"}, {"op": "min", "field": "v", "as": "gmin"}, {"op": "max", "field": "v", "as": "gmax"}], "groupby": ["k"]}
 ],
 "layer": [
  {
   "transform": [
    {"filter": "datum.cnt > 1"},
    {"density": "v", "groupby": ["k", "i", "gmin", "gmax"], "steps": 400},
    {"filter": "datum.value >= datum.gmin && datum.value <= datum.gmax"},
    {"joinaggregate": [{"op": "max", "field": "density", "as": "dm"}], "groupby": ["k"]},
    {"calculate": "datum.i - 0.3 * datum.density / datum.dm", "as": "xa"},
    {"calculate": "datum.i + 0.3 * datum.density / datum.dm", "as": "xb"}
   ],
   "mark": {"type": "area", "orient": "horizontal", "fillOpacity": 0.3, "stroke": "#808080", "strokeWidth": 0.8},
   "encoding": {
    "x": {"field": "xa", "type": "quantitative", "stack": null, "scale": {"domain": [0, 10]}, "axis": {"values": [1,2,3,4,5,6,7,8,9], "tickCount": 20, "labelExpr": "['','all','N30°N','alkenone','chironomid','isotope','other biomarker','other ice','other microfossil','pollen'][datum.value]", "labelAngle": -45, "labelPadding": 9, "labelOffset": 3, "labelOverlap": false, "labelFlush": false, "labelBound": false, "title": null, "grid": true}},
    "x2": {"field": "xb"},
    "y": {"field": "value", "type": "quantitative", "scale": {"domain": [0, 25]}, "axis": {"values": [0,5,10,15,20,25], "format": "d", "title": "HTM amplitude (°C)", "labelPadding": 6, "titlePadding": 6, "grid": true}},
    "color": {"field": "k", "type": "nominal", "legend": null, "scale": {"domain": ["C:all","C:N30°N","C:alkenone","C:chironomid","C:isotope","C:other biomarker","C:other ice","C:other microfossil","C:pollen","M:all","M:N30°N","M:Mg/Ca","M:alkenone","M:isotope","M:other biomarker","M:other microfossil"], "range": ["#0072BD","#4DBEEE","#D95319","#77AC30","#EDB120","#0072BD","#4DBEEE","#7E2F8E","#77AC30","#0072BD","#4DBEEE","#7E2F8E","#D95319","#A2142F","#77AC30","#EDB120"]}}
   }
  },
  {
   "transform": [
    {"window": [{"op": "row_number", "as": "rn"}, {"op": "min", "field": "v", "as": "wlo"}, {"op": "max", "field": "v", "as": "whi"}, {"op": "count", "as": "wc"}], "groupby": ["k"], "sort": [{"field": "v"}], "frame": [-4, 4]},
    {"calculate": "datum.wc / (datum.whi - datum.wlo + 0.2)", "as": "ld"},
    {"joinaggregate": [{"op": "q3", "field": "ld", "as": "lq"}], "groupby": ["k"]},
    {"calculate": "datum.i + (datum.cnt > 1 ? ((datum.rn * 0.6180339887) % 1 * 2 - 1) * 0.28 * min(1, datum.ld / datum.lq) : 0)", "as": "xj"}
   ],
   "mark": {"type": "circle", "size": 45, "opacity": 0.33},
   "encoding": {
    "x": {"field": "xj", "type": "quantitative", "scale": {"domain": [0, 10]}},
    "y": {"field": "v", "type": "quantitative", "scale": {"domain": [0, 25]}},
    "color": {"field": "k", "type": "nominal", "legend": null}
   }
  },
  {
   "transform": [{"aggregate": [{"op": "count", "as": "nn"}], "groupby": ["k", "i", "gmin", "gmax"]}],
   "mark": {"type": "rule", "color": "#808080", "strokeWidth": 1},
   "encoding": {
    "x": {"field": "i", "type": "quantitative", "scale": {"domain": [0, 10]}},
    "y": {"field": "gmin", "type": "quantitative", "scale": {"domain": [0, 25]}},
    "y2": {"field": "gmax"}
   }
  },
  {
   "data": {"name": "st"},
   "transform": [
    {"filter": "datum.t == 'C' && isValid(datum.ma)"},
    {"calculate": "indexof(['all','N30°N','alkenone','chironomid','isotope','other biomarker','other ice','other microfossil','pollen'], datum.g) + 1", "as": "i"},
    {"calculate": "'C:' + datum.g", "as": "k"},
    {"calculate": "datum.i - 0.27", "as": "xa"},
    {"calculate": "datum.i + 0.27", "as": "xb"}
   ],
   "mark": {"type": "rule", "strokeWidth": 1.5},
   "encoding": {
    "x": {"field": "xa", "type": "quantitative", "scale": {"domain": [0, 10]}},
    "x2": {"field": "xb"},
    "y": {"field": "ma", "type": "quantitative", "scale": {"domain": [0, 25]}},
    "color": {"field": "k", "type": "nominal", "legend": null}
   }
  },
  {
   "data": {"name": "st"},
   "transform": [
    {"filter": "datum.t == 'C'"},
    {"calculate": "indexof(['all','N30°N','alkenone','chironomid','isotope','other biomarker','other ice','other microfossil','pollen'], datum.g) + 1", "as": "i"}
   ],
   "mark": {"type": "point", "filled": true, "fill": "#ffffff", "stroke": "#7f7f7f", "strokeWidth": 1, "size": 75, "opacity": 1},
   "encoding": {
    "x": {"field": "i", "type": "quantitative", "scale": {"domain": [0, 10]}},
    "y": {"field": "mm", "type": "quantitative", "scale": {"domain": [0, 25]}}
   }
  }
 ]
},
{
 "width": 276, "height": 247,
 "data": {"name": "rec"},
 "transform": [
  {"filter": "datum.t == 'M'"},
  {"calculate": "datum.m", "as": "v"},
  {"calculate": "datum.n == 1 ? ['all','N30°N',datum.c] : ['all',datum.c]", "as": "gs"},
  {"flatten": ["gs"], "as": ["g"]},
  {"calculate": "indexof(['all','N30°N','Mg/Ca','alkenone','isotope','other biomarker','other microfossil'], datum.g) + 1", "as": "i"},
  {"calculate": "'M:' + datum.g", "as": "k"},
  {"joinaggregate": [{"op": "count", "as": "cnt"}, {"op": "min", "field": "v", "as": "gmin"}, {"op": "max", "field": "v", "as": "gmax"}], "groupby": ["k"]}
 ],
 "layer": [
  {
   "transform": [
    {"filter": "datum.cnt > 1"},
    {"density": "v", "groupby": ["k", "i", "gmin", "gmax"], "steps": 300},
    {"filter": "datum.value >= datum.gmin && datum.value <= datum.gmax"},
    {"joinaggregate": [{"op": "max", "field": "density", "as": "dm"}], "groupby": ["k"]},
    {"calculate": "datum.i - 0.3 * datum.density / datum.dm", "as": "xa"},
    {"calculate": "datum.i + 0.3 * datum.density / datum.dm", "as": "xb"}
   ],
   "mark": {"type": "area", "orient": "horizontal", "fillOpacity": 0.3, "stroke": "#808080", "strokeWidth": 0.8},
   "encoding": {
    "x": {"field": "xa", "type": "quantitative", "stack": null, "scale": {"domain": [0, 8]}, "axis": {"values": [1,2,3,4,5,6,7], "tickCount": 20, "labelExpr": "['','all','N30°N','Mg/Ca','alkenone','isotope','other biomarker','other microfossil'][datum.value]", "labelAngle": -30, "labelPadding": 10, "labelOffset": 0, "labelOverlap": false, "labelFlush": false, "labelBound": false, "title": null, "grid": true}},
    "x2": {"field": "xb"},
    "y": {"field": "value", "type": "quantitative", "scale": {"domain": [0, 12]}, "axis": {"values": [0,2,4,6,8,10,12], "format": "d", "title": "HTM amplitude (°C)", "labelPadding": 6, "titlePadding": 6, "grid": true}},
    "color": {"field": "k", "type": "nominal", "legend": null, "scale": {"domain": ["C:all","C:N30°N","C:alkenone","C:chironomid","C:isotope","C:other biomarker","C:other ice","C:other microfossil","C:pollen","M:all","M:N30°N","M:Mg/Ca","M:alkenone","M:isotope","M:other biomarker","M:other microfossil"], "range": ["#0072BD","#4DBEEE","#D95319","#77AC30","#EDB120","#0072BD","#4DBEEE","#7E2F8E","#77AC30","#0072BD","#4DBEEE","#7E2F8E","#D95319","#A2142F","#77AC30","#EDB120"]}}
   }
  },
  {
   "transform": [
    {"window": [{"op": "row_number", "as": "rn"}, {"op": "min", "field": "v", "as": "wlo"}, {"op": "max", "field": "v", "as": "whi"}, {"op": "count", "as": "wc"}], "groupby": ["k"], "sort": [{"field": "v"}], "frame": [-4, 4]},
    {"calculate": "datum.wc / (datum.whi - datum.wlo + 0.2)", "as": "ld"},
    {"joinaggregate": [{"op": "q3", "field": "ld", "as": "lq"}], "groupby": ["k"]},
    {"calculate": "datum.i + (datum.cnt > 1 ? ((datum.rn * 0.6180339887) % 1 * 2 - 1) * 0.28 * min(1, datum.ld / datum.lq) : 0)", "as": "xj"}
   ],
   "mark": {"type": "circle", "size": 45, "opacity": 0.33},
   "encoding": {
    "x": {"field": "xj", "type": "quantitative", "scale": {"domain": [0, 8]}},
    "y": {"field": "v", "type": "quantitative", "scale": {"domain": [0, 12]}},
    "color": {"field": "k", "type": "nominal", "legend": null}
   }
  },
  {
   "transform": [{"aggregate": [{"op": "count", "as": "nn"}], "groupby": ["k", "i", "gmin", "gmax"]}],
   "mark": {"type": "rule", "color": "#808080", "strokeWidth": 1},
   "encoding": {
    "x": {"field": "i", "type": "quantitative", "scale": {"domain": [0, 8]}},
    "y": {"field": "gmin", "type": "quantitative", "scale": {"domain": [0, 12]}},
    "y2": {"field": "gmax"}
   }
  },
  {
   "data": {"name": "st"},
   "transform": [
    {"filter": "datum.t == 'M' && isValid(datum.ma)"},
    {"calculate": "indexof(['all','N30°N','Mg/Ca','alkenone','isotope','other biomarker','other microfossil'], datum.g) + 1", "as": "i"},
    {"calculate": "'M:' + datum.g", "as": "k"},
    {"calculate": "datum.i - 0.22", "as": "xa"},
    {"calculate": "datum.i + 0.22", "as": "xb"}
   ],
   "mark": {"type": "rule", "strokeWidth": 1.5},
   "encoding": {
    "x": {"field": "xa", "type": "quantitative", "scale": {"domain": [0, 8]}},
    "x2": {"field": "xb"},
    "y": {"field": "ma", "type": "quantitative", "scale": {"domain": [0, 12]}},
    "color": {"field": "k", "type": "nominal", "legend": null}
   }
  },
  {
   "data": {"name": "st"},
   "transform": [
    {"filter": "datum.t == 'M'"},
    {"calculate": "indexof(['all','N30°N','Mg/Ca','alkenone','isotope','other biomarker','other microfossil'], datum.g) + 1", "as": "i"}
   ],
   "mark": {"type": "point", "filled": true, "fill": "#ffffff", "stroke": "#7f7f7f", "strokeWidth": 1, "size": 75, "opacity": 1},
   "encoding": {
    "x": {"field": "i", "type": "quantitative", "scale": {"domain": [0, 8]}},
    "y": {"field": "mm", "type": "quantitative", "scale": {"domain": [0, 12]}}
   }
  }
 ]
}
]
}
